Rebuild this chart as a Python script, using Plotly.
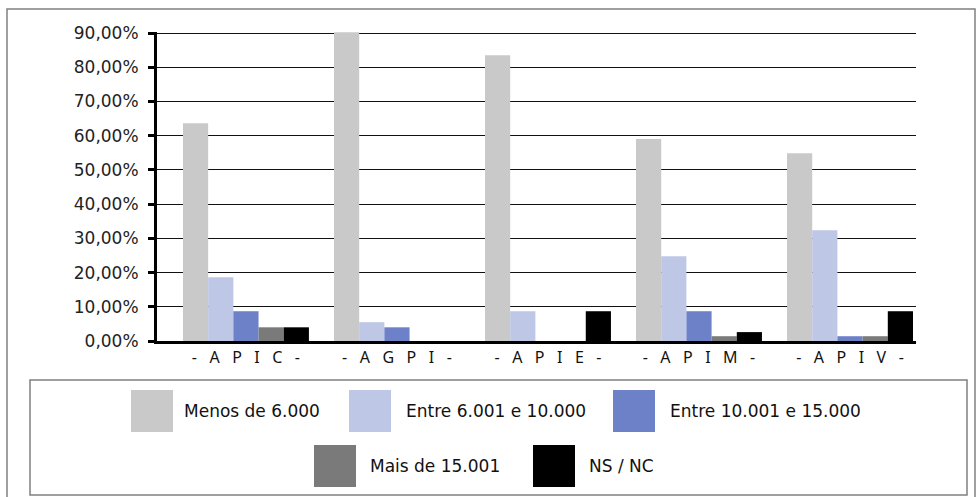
import plotly.graph_objects as go

# grupos e séries
grupos = ["APIC", "AGPI", "APIE", "APIM", "APIV"]
rotulos_grupos = ["- A P I C -", "- A G P I -", "- A P I E -", "- A P I M -", "- A P I V -"]

series = ["Menos de 6.000", "Entre 6.001 e 10.000", "Entre 10.001 e 15.000",
          "Mais de 15.001", "NS / NC"]
menos_6000 = [0.636, 0.902, 0.835, 0.590, 0.549]
entre_6001_10000 = [0.186, 0.055, 0.087, 0.248, 0.324]
entre_10001_15000 = [0.087, 0.040, 0.0, 0.087, 0.014]
mais_15001 = [0.040, 0.0, 0.0, 0.014, 0.014]
ns_nc = [0.040, 0.0, 0.087, 0.026, 0.087]

valores = [menos_6000, entre_6001_10000, entre_10001_15000, mais_15001, ns_nc]
cores = ["#c9c9c9", "#bec7e6", "#6d81c8", "#7a7a7a", "#000000"]

W, H = 976, 497
L, R, T, B = 157, 916, 32, 341   # área do gráfico em pixels


def px(x):
    return (x - L) / (R - L)


def py(y):
    return (B - y) / (B - T)


def espacar(txt):
    return "\u00a0".join(txt.replace(" ", "\u00a0"))


fig = go.Figure()
for nome, vals, cor in zip(series, valores, cores):
    fig.add_trace(go.Bar(x=grupos, y=vals, name=nome, marker_color=cor,
                         marker_line_width=0))

fig.update_layout(
    width=W, height=H,
    margin=dict(l=L, r=W - R, t=T, b=H - B, pad=0),
    barmode="group", bargap=0.166, bargroupgap=0,
    separators=",.",
    showlegend=False,
    paper_bgcolor="white", plot_bgcolor="white",
)

fig.update_xaxes(
    range=[-0.589, 4.437],
    tickvals=grupos, ticktext=[espacar(t) for t in rotulos_grupos],
    tickfont=dict(family="Noto Sans", size=16, color="#111"),
    showline=True, linewidth=3, linecolor="black",
    showgrid=False, ticks="", ticklabelstandoff=0,
)
fig.update_yaxes(
    range=[0, 0.903], tickvals=[i / 10 for i in range(10)],
    tickformat=".2%",
    tickfont=dict(family="DejaVu Sans", size=17, color="#222"),
    showline=True, linewidth=3, linecolor="black",
    ticks="outside", ticklen=6, tickwidth=3, tickcolor="black",
    showgrid=True, gridcolor="#111", gridwidth=1,
    zeroline=False, ticklabelstandoff=6,
)

# moldura externa e caixa da legenda
fig.add_shape(type="rect", xref="paper", yref="paper",
              x0=px(7), x1=px(975), y0=py(505), y1=py(9),
              line=dict(color="#808080", width=1.5), layer="below")
fig.add_shape(type="rect", xref="paper", yref="paper",
              x0=px(30), x1=px(967), y0=py(495), y1=py(380),
              line=dict(color="#808080", width=1.5))

# legenda manual (quadrados grandes): canto do quadrado e início do texto
pos_legenda = [(131, 390, 182), (349, 390, 404), (613, 390, 668),
               (314, 445, 368), (533, 445, 587)]
for nome, cor, (x0, y0, xt) in zip(series, cores, pos_legenda):
    fig.add_shape(type="rect", xref="paper", yref="paper",
                  x0=px(x0), x1=px(x0 + 42), y0=py(y0 + 42), y1=py(y0),
                  fillcolor=cor, line_width=0)
    fig.add_annotation(xref="paper", yref="paper", x=px(xt), y=py(y0 + 21),
                       text=nome, showarrow=False, xanchor="left", yanchor="middle",
                       font=dict(family="DejaVu Sans", size=17, color="#111"))

fig.write_html("out.html", config={"displayModeBar": False},
               post_script="document.body.style.margin='0';")
